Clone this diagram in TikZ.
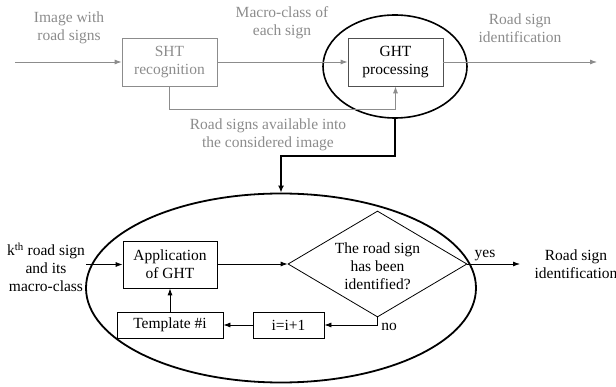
\documentclass[tikz,border=0pt]{standalone}
\usepackage{fontspec}
\setmainfont{Liberation Serif}
\usetikzlibrary{shapes.geometric,arrows.meta}
\definecolor{gry}{RGB}{140,140,140}
\definecolor{dgry}{RGB}{80,80,80}
\begin{document}
\begin{tikzpicture}[x=1pt,y=-1pt,
  font=\fontsize{15.5}{18}\selectfont,
  every node/.style={align=center,inner sep=0pt},
  gbox/.style={draw=gry,line width=0.8pt,text=gry,minimum width=95pt,minimum height=48pt},
  bbox/.style={draw=black,line width=0.8pt,minimum height=26pt},
  garrow/.style={draw=gry,line width=0.8pt,-{Latex[length=7pt,width=5pt]}},
  barrow/.style={draw=black,line width=0.8pt,-{Latex[length=7pt,width=5pt]}},
  tarrow/.style={draw=black,line width=2.4pt,-{Latex[length=7pt,width=6pt]}},
  glabel/.style={text=gry}]
\useasboundingbox (0,0) rectangle (616,387);
% top row
\node[gbox] (sht) at (169.5,62) {SHT\\recognition};
\node[gbox,draw=dgry,text=black] (ght) at (395.5,62) {GHT\\processing};
\node[ellipse,draw,line width=1.6pt,minimum width=144pt,minimum height=103pt] (ell1) at (395,66.5) {};
\coordinate (in1) at (15,62);
\coordinate (out1) at (597,62);
\node[glabel] (limg) at (69,28) {Image with\\road signs};
\node[glabel] (lmac) at (282,23) {Macro-class of\\each sign};
\node[glabel] (lout) at (520,28) {Road sign\\identification};
\node[glabel] (lavail) at (268,135) {Road signs available into\\the considered image};
\draw[garrow] (in1) -- (sht.west);
\draw[garrow] (sht.east) -- (ght.west);
\draw[garrow] (ght.east) -- (out1);
\draw[garrow] (sht.south) -- ++(0,23) -| (ght.south);
% bottom
\node[ellipse,draw,line width=1.8pt,minimum width=390pt,minimum height=189pt] (big) at (281,288) {};
\draw[tarrow] (ell1.south) -- ++(0,37) -| (big.north);
\node[bbox,minimum width=94pt,minimum height=47pt] (app) at (170,264.5) {Application\\of GHT};
\node[diamond,draw,line width=0.8pt,shape aspect=1.69,minimum width=179pt,minimum height=106pt] (dia) at (377.5,264) {};
\node (diat) at (377.5,266) {The road sign\\has been\\identified?};
\node[bbox,minimum width=71pt] (inc) at (288.5,325) {i=i+1};
\node[bbox,minimum width=106pt] (tmpl) at (170,325) {Template \#i};
\node (kin) at (46,267) {k\textsuperscript{th} road sign\\and its\\macro-class};
\coordinate (kstart) at (86,264.5);
\coordinate (yend) at (520,264);
\node (rsi) at (576,264) {Road sign\\identification};
\node (yes) at (485,256) {yes};
\node (no) at (389,327) {no};
\draw[barrow] (kstart) -- (app.west);
\draw[barrow] (app.east |- dia.west) -- (dia.west);
\draw[barrow] (dia.east) -- (yend);
\draw[barrow] (dia.south) |- (inc.east);
\draw[barrow] (inc.west) -- (tmpl.east);
\draw[barrow] (tmpl.north) -- (app.south);
\end{tikzpicture}
\end{document}
